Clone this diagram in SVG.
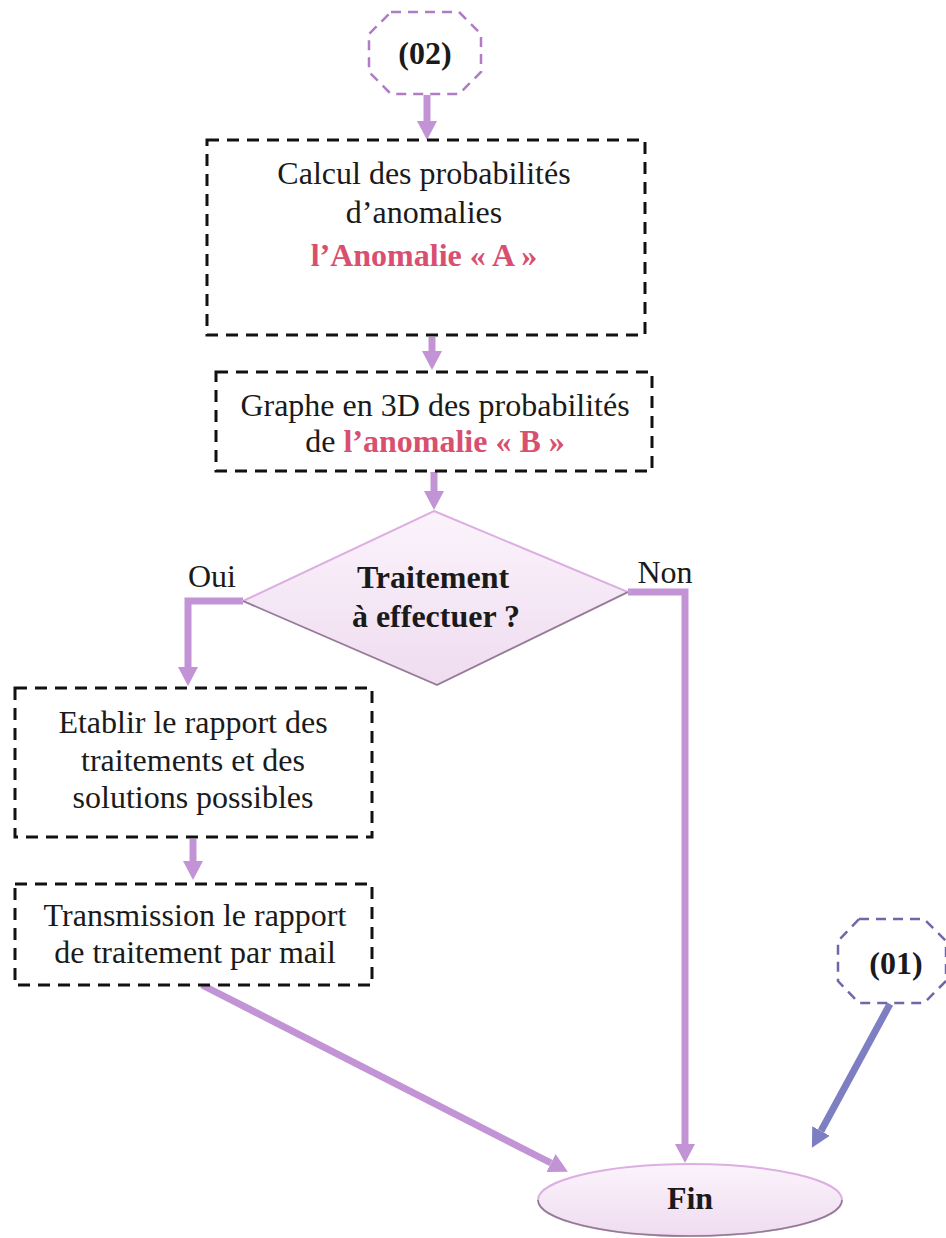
<svg xmlns="http://www.w3.org/2000/svg" width="946" height="1238" viewBox="0 0 946 1238">
  <defs>
    <style>
      .box { fill: #ffffff; stroke: #111111; stroke-width: 3; stroke-dasharray: 12 8; }
      .oct { fill: #ffffff; stroke: #b07cc4; stroke-width: 2.5; stroke-dasharray: 10 7; }
      .oct1 { fill: #ffffff; stroke: #6f68a8; stroke-width: 2.5; stroke-dasharray: 10 7; }
      .txt { font-family: "Liberation Serif", "Times New Roman", serif; font-size: 32px; fill: #1a1a1a; text-anchor: middle; }
      .bold { font-weight: bold; }
      .red { fill: #d94f70; font-weight: bold; }
      .link { fill: none; stroke: #c294d6; stroke-width: 7; }
      .link1 { fill: none; stroke: #7d7fc2; stroke-width: 7; }
    </style>
    <marker id="head" markerUnits="userSpaceOnUse" markerWidth="20" markerHeight="22" viewBox="0 0 20 22" refX="0" refY="11" orient="auto">
      <path d="M0,1 L19,11 L0,21 Z" fill="#c294d6"/>
    </marker>
    <marker id="head1" markerUnits="userSpaceOnUse" markerWidth="20" markerHeight="22" viewBox="0 0 20 22" refX="0" refY="11" orient="auto">
      <path d="M0,1 L19,11 L0,21 Z" fill="#7d7fc2"/>
    </marker>
    <linearGradient id="shapeFill" x1="0" y1="0" x2="0" y2="1">
      <stop offset="0" stop-color="#fbf3fb"/>
      <stop offset="1" stop-color="#efdcf0"/>
    </linearGradient>
  </defs>

  <!-- connectors -->
  <g id="connectors">
    <path class="link" d="M427,95 V121" marker-end="url(#head)"/>
    <path class="link" d="M432,337 V351" marker-end="url(#head)"/>
    <path class="link" d="M434,472 V491" marker-end="url(#head)"/>
    <path class="link" d="M243,601 H188 V667" marker-end="url(#head)"/>
    <path class="link" d="M193,839 V861" marker-end="url(#head)"/>
    <path class="link" d="M628,592 H685 V1144" marker-end="url(#head)"/>
    <path class="link" d="M202,985 L551,1163" marker-end="url(#head)"/>
    <path class="link1" d="M890,1004 L821,1131" marker-end="url(#head1)"/>
  </g>

  <!-- connector (02) -->
  <g id="node-02">
    <polygon class="oct" points="391,12 459,12 481,34 481,72 459,94 391,94 369,72 369,34"/>
    <text class="txt bold" x="425" y="64">(02)</text>
  </g>

  <g id="node-calcul">
    <rect class="box" x="207" y="140" width="438" height="195"/>
    <text class="txt" x="424" y="184">Calcul des probabilités</text>
    <text class="txt" x="424" y="223">d’anomalies</text>
    <text class="txt red" x="424" y="266">l’Anomalie « A »</text>
  </g>

  <g id="node-graphe">
    <rect class="box" x="216" y="372" width="436" height="99"/>
    <text class="txt" x="435" y="416">Graphe en 3D des probabilités</text>
    <text class="txt" x="435" y="452">de <tspan class="red">l’anomalie « B »</tspan></text>
  </g>

  <g id="node-decision">
    <polygon points="434,511 628,592 437,685 243,601" fill="url(#shapeFill)" stroke="#dcaee2" stroke-width="2"/>
    <path d="M628,592 L437,685 L243,601" fill="none" stroke="#8f7d8f" stroke-width="1.5"/>
    <text class="txt bold" x="433" y="588">Traitement</text>
    <text class="txt bold" x="436" y="627">à effectuer ?</text>
    <text class="txt" x="212" y="587">Oui</text>
    <text class="txt" x="665" y="583">Non</text>
  </g>

  <g id="node-etablir">
    <rect class="box" x="15" y="688" width="357" height="149"/>
    <text class="txt" x="193" y="733">Etablir le rapport des</text>
    <text class="txt" x="193" y="771">traitements et des</text>
    <text class="txt" x="193" y="808">solutions possibles</text>
  </g>

  <g id="node-transmission">
    <rect class="box" x="15" y="884" width="357" height="101"/>
    <text class="txt" x="195" y="926">Transmission le rapport</text>
    <text class="txt" x="195" y="963">de traitement par mail</text>
  </g>

  <!-- connector (01) -->
  <g id="node-01">
    <polygon class="oct1" points="859,919 924,919 946,941 946,981 924,1003 859,1003 838,981 838,941"/>
    <text class="txt bold" x="896" y="974">(01)</text>
  </g>

  <g id="node-fin">
    <ellipse cx="690" cy="1200" rx="152" ry="36" fill="url(#shapeFill)" stroke="#dcaee2" stroke-width="2"/>
    <path d="M538,1200 A152,36 0 0 0 842,1200" fill="none" stroke="#8f7d8f" stroke-width="1.5"/>
    <text class="txt bold" x="690" y="1209">Fin</text>
  </g>
</svg>
